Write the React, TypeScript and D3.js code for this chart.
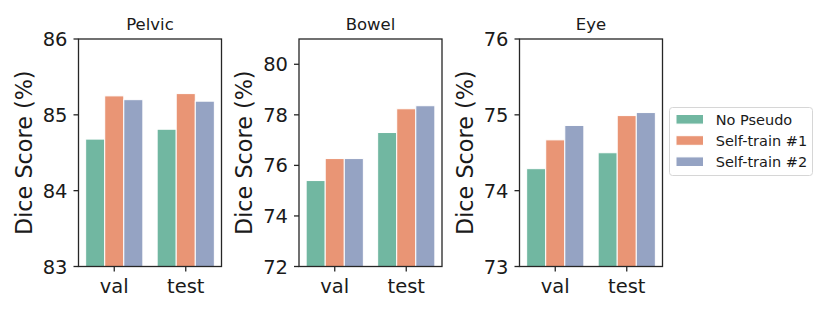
import React from "react";
import * as d3 from "d3";

const categories = ["val", "test"];
const seriesNames = ["No Pseudo", "Self-train #1", "Self-train #2"];
const seriesColors = ["#71b7a1", "#e99575", "#95a3c3"];

const panelTitles = ["Pelvic", "Bowel", "Eye"];
const pelvicValues = [
  [84.68, 84.81],
  [85.25, 85.28],
  [85.2, 85.18],
];
const bowelValues = [
  [75.4, 77.3],
  [76.27, 78.24],
  [76.27, 78.36],
];
const eyeValues = [
  [74.29, 74.5],
  [74.67, 74.99],
  [74.86, 75.03],
];
const panelYDomains: [number, number][] = [
  [83, 86],
  [72, 81],
  [73, 76],
];
const panelYTicks = [
  [83, 84, 85, 86],
  [72, 74, 76, 78, 80],
  [73, 74, 75, 76],
];
const yLabel = "Dice Score (%)";

const FONT = "DejaVu Sans, sans-serif";
const TEXT = "#1a1a1a";
const SPINE = "#262626";

const panelLefts = [78.5, 299, 519.5];
const plotW = 143;
const plotTop = 39;
const plotBottom = 266.5;

function Panel({ idx }: { idx: number }) {
  const values = [pelvicValues, bowelValues, eyeValues][idx];
  const left = panelLefts[idx];
  const x = d3
    .scaleBand<string>()
    .domain(categories)
    .range([left, left + plotW])
    .paddingInner(0.2)
    .paddingOuter(0.1);
  const xs = d3
    .scaleBand<string>()
    .domain(seriesNames)
    .range([0, x.bandwidth()])
    .padding(0);
  const y = d3.scaleLinear().domain(panelYDomains[idx]).range([plotBottom, plotTop]);
  const cx = left + plotW / 2;
  const cy = (plotTop + plotBottom) / 2;
  return (
    <g>
      {seriesNames.map((s, si) =>
        categories.map((c, ci) => {
          const v = values[si][ci];
          const x0 = (x(c) as number) + (xs(s) as number);
          return (
            <rect
              key={s + c}
              x={x0}
              y={y(v)}
              width={xs.bandwidth()}
              height={plotBottom - y(v)}
              fill={seriesColors[si]}
              stroke="#ffffff"
              strokeWidth={1}
            />
          );
        })
      )}
      <rect
        x={left}
        y={plotTop}
        width={plotW}
        height={plotBottom - plotTop}
        fill="none"
        stroke={SPINE}
        strokeWidth={1.3}
      />
      {panelYTicks[idx].map((t) => (
        <g key={t}>
          <line x1={left - 5} x2={left} y1={y(t)} y2={y(t)} stroke={SPINE} strokeWidth={1.3} />
          <text
            x={left - 11}
            y={y(t)}
            dy="0.36em"
            textAnchor="end"
            fontFamily={FONT}
            fontSize={19.5}
            fill={TEXT}
          >
            {t}
          </text>
        </g>
      ))}
      {categories.map((c) => {
        const xc = (x(c) as number) + x.bandwidth() / 2;
        return (
          <g key={c}>
            <line x1={xc} x2={xc} y1={plotBottom} y2={plotBottom + 5} stroke={SPINE} strokeWidth={1.3} />
            <text x={xc} y={292.5} textAnchor="middle" fontFamily={FONT} fontSize={19.5} fill={TEXT}>
              {c}
            </text>
          </g>
        );
      })}
      <text x={cx} y={30} textAnchor="middle" fontFamily={FONT} fontSize={16.5} fill={TEXT}>
        {panelTitles[idx]}
      </text>
      <text
        transform={`translate(${left - 47},${cy}) rotate(-90)`}
        textAnchor="middle"
        fontFamily={FONT}
        fontSize={22.3}
        fill={TEXT}
      >
        {yLabel}
      </text>
    </g>
  );
}

function Legend() {
  const lx = 669.5;
  const ly = 107.5;
  const row = d3.scaleLinear().domain([0, 1]).range([119.3, 140.5]);
  return (
    <g>
      <rect x={lx} y={ly} width={143} height={68} rx={3} fill="#ffffff" stroke="#d6d6d6" strokeWidth={1} />
      {seriesNames.map((s, i) => (
        <g key={s}>
          <rect
            x={676}
            y={row(i) - 4.8}
            width={27.5}
            height={9.6}
            fill={seriesColors[i]}
            stroke="#ffffff"
            strokeWidth={1}
          />
          <text x={715.7} y={row(i)} dy="0.36em" fontFamily={FONT} fontSize={14.5} fill={TEXT}>
            {s}
          </text>
        </g>
      ))}
    </g>
  );
}

export default function App() {
  return (
    <svg
      width={830}
      height={312}
      style={{ position: "absolute", left: 0, top: 0, background: "#ffffff" }}
    >
      <rect x={0} y={0} width={830} height={312} fill="#ffffff" />
      {[0, 1, 2].map((i) => (
        <Panel key={i} idx={i} />
      ))}
      <Legend />
    </svg>
  );
}
